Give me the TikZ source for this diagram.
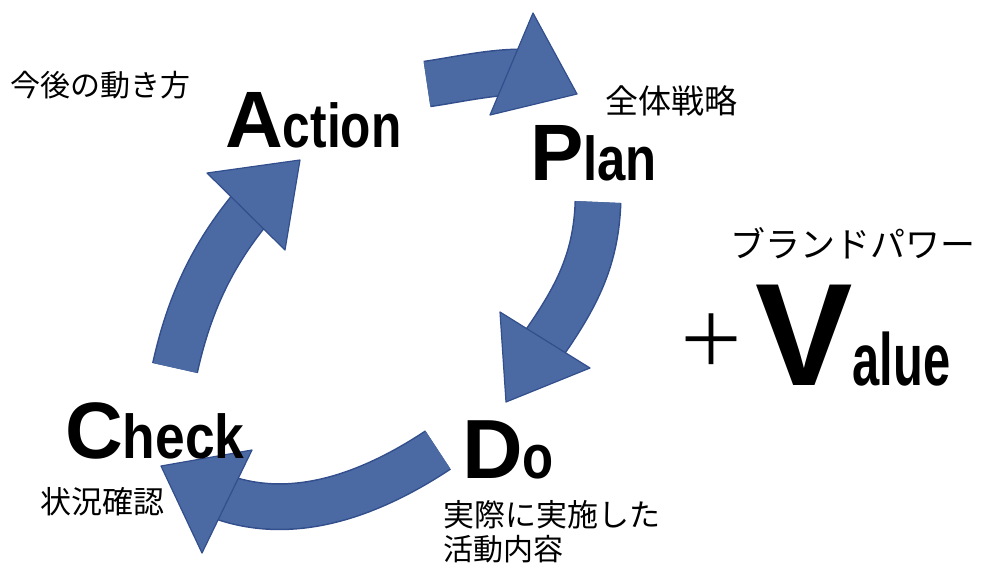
\documentclass[tikz,border=0pt]{standalone}
\usepackage{fontspec}
\usepackage{graphicx}
\setmainfont{Liberation Sans}
\newfontfamily\jp{Noto Sans CJK JP}
\definecolor{arrfill}{RGB}{75,106,163}
\definecolor{arredge}{RGB}{50,78,140}
\newcommand{\cyclabel}[6]{\scalebox{#5}[1]{\fontsize{#3}{#3}\selectfont\bfseries #1}\scalebox{#6}[1]{\fontsize{#4}{#4}\selectfont\bfseries #2}}
\tikzset{
  arrbodyedge/.style={line width=47pt, draw=arredge},
  arrbody/.style={line width=44pt, draw=arrfill},
  arrhead/.style={fill=arrfill, draw=arredge, line width=1.2pt, line join=round},
  word/.style={inner sep=0pt, anchor=base west},
  jtext/.style={inner sep=0pt, anchor=west, font=\jp\fontsize{30}{30}\selectfont}
}
\begin{document}
\begin{tikzpicture}[x=1pt,y=-1pt]
\useasboundingbox[fill=white] (0,0) rectangle (988,563);
% arrow 1: Action -> Plan
\coordinate (a1s) at (427,84);
\coordinate (a1e) at (520,72);
\draw[arrbodyedge] (a1s) .. controls (455,80) and (490,72) .. (a1e);
\draw[arrbody] (a1s) .. controls (455,80) and (490,72) .. (a1e);
\draw[arrhead] (533,13) -- (577,94) -- (490,115) -- cycle;
% arrow 2: Plan -> Do
\coordinate (a2s) at (598,202);
\coordinate (a2e) at (538,352);
\draw[arrbodyedge] (a2s) .. controls (596,262) and (575,300) .. (a2e);
\draw[arrbody] (a2s) .. controls (596,262) and (575,300) .. (a2e);
\draw[arrhead] (500,312) -- (590,368) -- (506,402) -- cycle;
% arrow 3: Do -> Check
\coordinate (a3s) at (438,450);
\coordinate (a3e) at (214,494);
\draw[arrbodyedge] (a3s) .. controls (370,495) and (290,525) .. (a3e);
\draw[arrbody] (a3s) .. controls (370,495) and (290,525) .. (a3e);
\draw[arrhead] (252,450) -- (202,553) -- (161,466) -- cycle;
% arrow 4: Check -> Action
\coordinate (a4s) at (175,368);
\coordinate (a4e) at (257,201);
\draw[arrbodyedge] (a4s) .. controls (190,300) and (215,250) .. (a4e);
\draw[arrbody] (a4s) .. controls (190,300) and (215,250) .. (a4e);
\draw[arrhead] (207,173) -- (300,160) -- (285,250) -- cycle;
% words
\node[word] (act) at (225,147) {\cyclabel{A}{ction}{80}{62}{1.0}{0.8}};
\node[word] (pln) at (530,180) {\cyclabel{P}{lan}{80}{62}{1.0}{0.82}};
\node[word] (chk) at (65,458) {\cyclabel{C}{heck}{80}{62}{1.0}{0.86}};
\node[word] (dod) at (462,478) {\cyclabel{D}{o}{84}{62}{1.0}{0.82}};
\node[word] (val) at (755,385) {\cyclabel{V}{alue}{146}{74}{1.0}{0.66}};
\node[inner sep=0pt, font=\jp\fontsize{70}{70}\selectfont] (pls) at (711,340) {＋};
% Japanese labels
\node[jtext] (j1) at (10,85) {今後の動き方};
\node[jtext, font=\jp\fontsize{33}{33}\selectfont] (j2) at (605,101) {全体戦略};
\node[jtext, font=\jp\fontsize{35}{35}\selectfont] (j3) at (730,243) {ブランドパワー};
\node[jtext, font=\jp\fontsize{31}{31}\selectfont] (j4) at (40,502) {状況確認};
\node[jtext, font=\jp\fontsize{31}{31}\selectfont] (j5) at (443,515) {実際に実施した};
\node[jtext] (j6) at (443,549) {活動内容};
\end{tikzpicture}
\end{document}
